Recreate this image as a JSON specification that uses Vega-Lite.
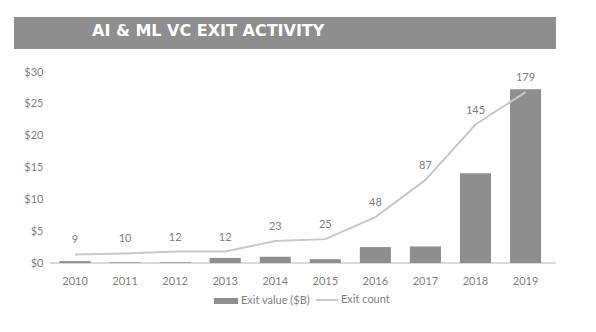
{
  "$schema": "https://vega.github.io/schema/vega-lite/v6.json",
  "background": "white",
  "padding": {"left": 14, "top": 17, "right": 0, "bottom": 0},
  "spacing": 17,
  "config": {
    "view": {"stroke": null},
    "font": "Lato",
    "legend": {"labelFont": "Lato", "labelFontSize": 11, "labelColor": "#7f7f7f"}
  },
  "vconcat": [
    {
      "width": 542,
      "height": 32,
      "view": {"fill": "#8e8e8e", "stroke": null},
      "data": {"values": [{"title": "AI & ML VC EXIT ACTIVITY"}]},
      "mark": {"type": "text", "align": "left", "baseline": "middle", "dx": -193, "dy": -2, "color": "white", "font": "DejaVu Sans", "fontSize": 16, "fontWeight": "bold"},
      "encoding": {"text": {"field": "title"}}
    },
    {
      "width": 542,
      "height": 191,
      "data": {
        "values": [
          {"year": "2010", "value": 0.3, "count": 9},
          {"year": "2011", "value": 0.1, "count": 10},
          {"year": "2012", "value": 0.1, "count": 12},
          {"year": "2013", "value": 0.8, "count": 12},
          {"year": "2014", "value": 1.0, "count": 23},
          {"year": "2015", "value": 0.6, "count": 25},
          {"year": "2016", "value": 2.5, "count": 48},
          {"year": "2017", "value": 2.6, "count": 87},
          {"year": "2018", "value": 14.1, "count": 145},
          {"year": "2019", "value": 27.3, "count": 179}
        ]
      },
      "encoding": {
        "x": {
          "field": "year",
          "type": "ordinal",
          "scale": {"paddingInner": 0.38, "paddingOuter": 0.6035, "align": 0.753},
          "axis": {"title": null, "labelAngle": 0, "domain": false, "ticks": false, "labelPadding": 12, "labelFontSize": 11, "labelColor": "#7f7f7f", "labelFont": "Lato"}
        }
      },
      "layer": [
        {
          "mark": {"type": "rule", "color": "#d9d9d9", "strokeWidth": 1},
          "encoding": {
            "x": {"datum": "2010", "type": "ordinal", "bandPosition": -0.306},
            "x2": {"datum": "2019", "bandPosition": 1.482},
            "y": {"datum": 0, "type": "quantitative", "scale": {"domain": [0, 30]}, "axis": null}
          }
        },
        {
          "mark": {"type": "bar"},
          "encoding": {
            "y": {
              "field": "value",
              "type": "quantitative",
              "scale": {"domain": [0, 30], "nice": false},
              "axis": {"title": null, "values": [0, 5, 10, 15, 20, 25, 30], "labelExpr": "'$' + datum.value", "domain": false, "ticks": false, "grid": false, "labelPadding": -29, "labelFontSize": 11, "labelColor": "#7f7f7f", "labelFont": "Lato"}
            },
            "fill": {
              "datum": "Exit value ($B)",
              "type": "nominal",
              "scale": {"range": ["#8e8e8e"]},
              "legend": {"title": null, "orient": "none", "legendX": 199, "legendY": 271, "symbolType": "M-1,-0.25H1V0.25H-1Z", "symbolSize": 576, "labelOffset": 2}
            }
          }
        },
        {
          "mark": {"type": "line", "strokeWidth": 2},
          "encoding": {
            "y": {"field": "count", "type": "quantitative", "scale": {"domain": [0, 200]}, "axis": null},
            "stroke": {
              "datum": "Exit count",
              "type": "nominal",
              "scale": {"range": ["#c8c8c8"]},
              "legend": {"title": null, "orient": "none", "legendX": 301, "legendY": 271, "symbolType": "stroke", "symbolSize": 484, "symbolStrokeWidth": 2, "labelOffset": 2}
            }
          }
        },
        {
          "mark": {"type": "text", "dy": -14, "fontSize": 11, "color": "#7f7f7f", "font": "Lato"},
          "encoding": {
            "y": {"field": "count", "type": "quantitative", "scale": {"domain": [0, 200]}, "axis": null},
            "text": {"field": "count", "type": "quantitative"}
          }
        }
      ],
      "resolve": {"scale": {"y": "independent"}}
    }
  ]
}
